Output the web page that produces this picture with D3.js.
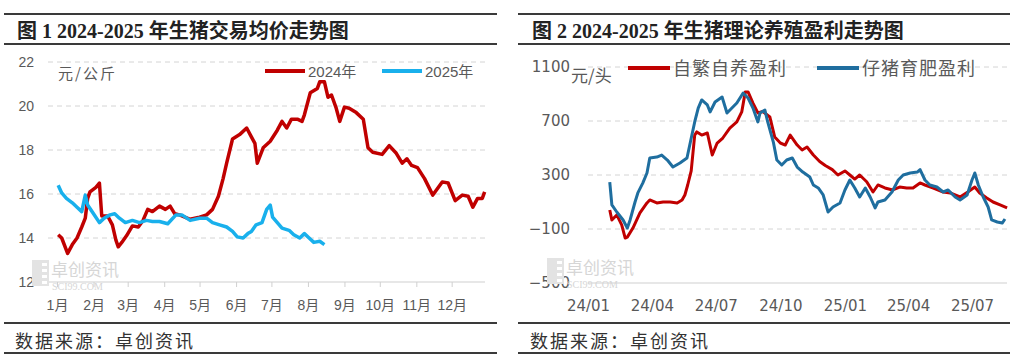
<!DOCTYPE html>
<html>
<head>
<meta charset="utf-8">
<script src="https://cdn.jsdelivr.net/npm/d3@7"></script>
<style>
  body { margin: 0; background: #fff; }
  svg { display: block; font-family: "Liberation Sans", "Noto Sans CJK SC", sans-serif; }
</style>
</head>
<body>
<svg id="canvas"></svg>
<script>
// two pig market charts side by side

let width = 1014
let height = 362

// ---- chart 1 : average pig price (yuan/kg), dates as month-day ----
let monthLabels = ['1月', '2月', '3月', '4月', '5月', '6月', '7月', '8月', '9月', '10月', '11月', '12月']
let priceTicks = [12, 14, 16, 18, 20, 22]

let priceDates2024 = ['01-02', '01-05', '01-10', '01-14', '01-18', '01-22', '01-25', '01-27', '01-29', '02-03',
  '02-06', '02-08', '02-13', '02-17', '02-20', '02-22', '02-25', '02-29', '03-05', '03-10',
  '03-14', '03-18', '03-22', '03-28', '04-02', '04-06', '04-10', '04-14', '04-23', '05-01',
  '05-07', '05-12', '05-17', '05-21', '05-24', '05-29', '06-04', '06-10', '06-14', '06-17',
  '06-19', '06-24', '06-30', '07-06', '07-10', '07-14', '07-18', '07-23', '07-27', '07-29',
  '08-03', '08-09', '08-11', '08-15', '08-18', '08-21', '08-25', '08-28', '09-01', '09-05',
  '09-11', '09-17', '09-21', '09-25', '10-03', '10-09', '10-15', '10-20', '10-24', '10-28',
  '11-02', '11-08', '11-15', '11-23', '11-28', '12-04', '12-10', '12-15', '12-19', '12-23',
  '12-27', '12-29']
let price2024 = [14.15, 14.0, 13.3, 13.7, 14.0, 14.5, 14.9, 15.8, 16.1, 16.3,
  16.5, 15.0, 15.0, 14.6, 13.9, 13.6, 13.8, 14.1, 14.55, 14.5,
  14.8, 15.3, 15.2, 15.45, 15.3, 15.45, 15.1, 15.05, 14.85, 14.95,
  15.05, 15.3, 15.9, 16.7, 17.4, 18.5, 18.7, 19.0, 18.6, 18.3,
  17.4, 18.1, 18.4, 18.9, 19.3, 19.0, 19.4, 19.4, 19.3, 19.6,
  20.6, 20.8, 21.1, 21.1, 20.4, 20.5, 19.9, 19.3, 19.95, 19.9,
  19.7, 19.4, 18.1, 17.9, 17.8, 18.2, 17.85, 17.4, 17.6, 17.3,
  17.2, 16.7, 15.95, 16.55, 16.5, 15.7, 15.95, 15.9, 15.4, 15.8,
  15.8, 16.1]

let priceDates2025 = ['01-02', '01-05', '01-09', '01-14', '01-18', '01-22', '01-25', '01-27', '02-01', '02-06',
  '02-10', '02-15', '02-19', '02-23', '02-28', '03-05', '03-11', '03-17', '03-22', '03-28',
  '04-04', '04-11', '04-16', '04-23', '05-01', '05-07', '05-12', '05-18', '05-24', '05-29',
  '06-02', '06-07', '06-11', '06-14', '06-18', '06-23', '06-27', '06-30', '07-02', '07-06',
  '07-10', '07-16', '07-20', '07-25', '07-29', '08-02', '08-06', '08-11', '08-15']
let price2025 = [16.4, 16.05, 15.8, 15.6, 15.4, 15.2, 15.95, 15.5, 15.1, 14.7,
  14.9, 15.05, 15.1, 14.9, 14.7, 14.8, 14.7, 14.8, 14.75, 14.75,
  14.65, 15.05, 15.05, 14.8, 14.9, 14.9, 14.7, 14.6, 14.5, 14.3,
  14.05, 14.0, 14.2, 14.3, 14.6, 14.7, 15.3, 15.5, 14.95, 14.7,
  14.45, 14.35, 14.15, 14.0, 14.2, 14.0, 13.8, 13.85, 13.7]

// ---- chart 2 : theoretical breeding profit (yuan/head) ----
let profitTicks = [-500, -100, 300, 700, 1100]
let quarterTicks = ['2024-01-01', '2024-04-01', '2024-07-01', '2024-10-01', '2025-01-01', '2025-04-01', '2025-07-01']

let selfDates = ['2024-02-01', '2024-02-04', '2024-02-11', '2024-02-18', '2024-02-23', '2024-02-26', '2024-03-05', '2024-03-15',
  '2024-03-25', '2024-03-29', '2024-04-08', '2024-04-17', '2024-04-27', '2024-05-07', '2024-05-14', '2024-05-18',
  '2024-05-22', '2024-05-27', '2024-06-01', '2024-06-04', '2024-06-11', '2024-06-19', '2024-06-26', '2024-07-03',
  '2024-07-11', '2024-07-21', '2024-07-31', '2024-08-07', '2024-08-12', '2024-08-16', '2024-08-23', '2024-08-30',
  '2024-09-06', '2024-09-16', '2024-09-23', '2024-10-01', '2024-10-08', '2024-10-15', '2024-10-25', '2024-11-01',
  '2024-11-08', '2024-11-17', '2024-11-26', '2024-12-04', '2024-12-14', '2024-12-22', '2025-01-01', '2025-01-08',
  '2025-01-15', '2025-01-22', '2025-02-01', '2025-02-10', '2025-02-17', '2025-02-27', '2025-03-10', '2025-03-20',
  '2025-03-30', '2025-04-08', '2025-04-18', '2025-04-25', '2025-05-06', '2025-05-21', '2025-05-31', '2025-06-14',
  '2025-06-25', '2025-07-05', '2025-07-12', '2025-07-22', '2025-07-31', '2025-08-10', '2025-08-20']
let selfProfit = [41, -33, 4, -70, -167, -160, -93, 19,
  93, 115, 93, 100, 100, 93, 115, 152,
  226, 330, 596, 619, 596, 611, 448, 537,
  574, 648, 693, 767, 915, 915, 833, 760,
  770, 730, 581, 537, 522, 596, 522, 485,
  507, 448, 400, 370, 340, 300, 330, 300,
  270, 300, 250, 174, 226, 204, 189, 211,
  204, 204, 241, 226, 204, 174, 167, 137,
  174, 211, 167, 130, 100, 78, 56]

let pigletDates = ['2024-02-01', '2024-02-04', '2024-02-11', '2024-02-20', '2024-02-26', '2024-03-01', '2024-03-08', '2024-03-12',
  '2024-03-19', '2024-03-25', '2024-03-29', '2024-04-08', '2024-04-15', '2024-04-23', '2024-05-01', '2024-05-11',
  '2024-05-21', '2024-05-28', '2024-06-01', '2024-06-06', '2024-06-11', '2024-06-19', '2024-06-23', '2024-06-30',
  '2024-07-10', '2024-07-17', '2024-07-24', '2024-07-31', '2024-08-09', '2024-08-16', '2024-08-23', '2024-08-30',
  '2024-09-02', '2024-09-09', '2024-09-13', '2024-09-21', '2024-09-26', '2024-10-03', '2024-10-10', '2024-10-18',
  '2024-10-25', '2024-11-02', '2024-11-12', '2024-11-17', '2024-11-24', '2024-12-01', '2024-12-08', '2024-12-15',
  '2024-12-25', '2025-01-01', '2025-01-08', '2025-01-15', '2025-01-22', '2025-01-30', '2025-02-06', '2025-02-13',
  '2025-02-17', '2025-02-27', '2025-03-09', '2025-03-18', '2025-03-25', '2025-04-04', '2025-04-14', '2025-04-18',
  '2025-04-25', '2025-05-02', '2025-05-12', '2025-05-21', '2025-05-28', '2025-06-07', '2025-06-14', '2025-06-24',
  '2025-07-01', '2025-07-05', '2025-07-10', '2025-07-17', '2025-07-24', '2025-07-29', '2025-08-06', '2025-08-13',
  '2025-08-17']
let pigletProfit = [248, 78, 26, -33, -93, -33, 100, 167,
  240, 315, 426, 433, 448, 411, 359, 389,
  426, 596, 693, 796, 856, 819, 767, 841,
  878, 759, 796, 833, 907, 870, 796, 693,
  759, 781, 693, 544, 411, 374, 411, 426,
  359, 322, 285, 226, 204, 152, 26, 63,
  93, 189, 263, 204, 137, 204, 137, 56,
  100, 115, 174, 263, 300, 315, 322, 340,
  263, 226, 211, 174, 189, 137, 115, 152,
  263, 315, 226, 137, 63, -33, -48, -56,
  -26]

let svg = d3.select('#canvas')
  .attr('width', width)
  .attr('height', height)

let parseDay = d3.timeParse('%Y-%m-%d')

// rules, title, source line for one panel
let drawFrame = (x0, x1, titleX, title) => {
  [14, 44, 323, 353].forEach(y => {
    svg.append('line')
      .attr('x1', x0).attr('x2', x1)
      .attr('y1', y).attr('y2', y)
      .attr('stroke', '#3a3a3a')
      .attr('stroke-width', 2)
  })
  svg.append('text')
    .attr('x', titleX)
    .attr('y', 38)
    .style('font-family', '"Liberation Serif", "Noto Sans CJK SC", serif')
    .style('font-weight', 'bold')
    .style('font-size', '20px')
    .attr('fill', '#222')
    .text(title)
  svg.append('text')
    .attr('x', titleX - 2)
    .attr('y', 348)
    .style('font-family', '"Noto Sans CJK SC", sans-serif')
    .style('font-size', '18px')
    .style('letter-spacing', '2px')
    .attr('fill', '#333')
    .text('数据来源：卓创资讯')
}

// faint company watermark
let drawMark = (x, y) => {
  let g = svg.append('g').attr('transform', `translate(${x},${y})`)
  g.append('rect').attr('x', 0).attr('y', 0).attr('width', 17).attr('height', 26).attr('fill', '#e3e3e3')
  for (let i = 0; i < 4; i++) {
    g.append('rect').attr('x', 10).attr('y', 3 + i * 6).attr('width', 5).attr('height', 3).attr('fill', '#fff')
  }
  g.append('text')
    .attr('x', 19).attr('y', 16)
    .style('font-family', '"Noto Sans CJK SC", sans-serif')
    .style('font-size', '17px')
    .attr('fill', '#d6d6d6')
    .text('卓创资讯')
  g.append('text')
    .attr('x', 20).attr('y', 30)
    .style('font-family', '"Liberation Serif", serif')
    .style('font-size', '10px')
    .attr('fill', '#d6d6d6')
    .text('SCI99.COM')
}

let drawPriceChart = () => {
  let xScale = d3.scaleTime()
    .domain([parseDay('2024-01-01'), parseDay('2024-12-31')])
    .range([57, 487])
  let yScale = d3.scaleLinear()
    .domain([12, 22])
    .range([282, 62])

  // dashed grid
  svg.append('g')
    .selectAll('line')
    .data(priceTicks.slice(1))
    .enter()
    .append('line')
    .attr('x1', 48).attr('x2', 485)
    .attr('y1', d => yScale(d)).attr('y2', d => yScale(d))
    .attr('stroke', '#d4d4d4')
    .attr('stroke-dasharray', '5,4')

  let yAxis = d3.axisLeft(yScale).tickValues(priceTicks).tickSize(0).tickPadding(0)
  svg.append('g')
    .attr('transform', 'translate(34,0)')
    .call(yAxis)
    .call(g => g.select('.domain').remove())
    .selectAll('text')
    .style('font-size', '14px')
    .style('font-family', '"Liberation Sans", sans-serif')
    .attr('fill', '#595959')

  svg.append('line')
    .attr('x1', 48).attr('x2', 485)
    .attr('y1', 282).attr('y2', 282)
    .attr('stroke', '#d0d0d0')
    .attr('stroke-width', 1.2)

  let monthStarts = d3.range(12).map(m => new Date(2024, m, 1))
  let xAxis = d3.axisBottom(xScale)
    .tickValues(monthStarts)
    .tickFormat((d, i) => monthLabels[i])
    .tickSize(5)
    .tickPadding(13)
  svg.append('g')
    .attr('transform', 'translate(0,282)')
    .call(xAxis)
    .call(g => g.select('.domain').remove())
    .call(g => g.selectAll('line').attr('stroke', '#d0d0d0'))
    .selectAll('text')
    .style('font-size', '14px')
    .style('font-family', '"Liberation Sans", "Noto Sans CJK SC", sans-serif')
    .attr('fill', '#595959')

  drawMark(32, 260)

  let line = d3.line()
    .x(d => xScale(d[0]))
    .y(d => yScale(d[1]))

  let pts2025 = priceDates2025.map((d, i) => [parseDay('2024-' + d), price2025[i]])
  let pts2024 = priceDates2024.map((d, i) => [parseDay('2024-' + d), price2024[i]])

  svg.append('path')
    .datum(pts2024)
    .attr('d', line)
    .attr('fill', 'none')
    .attr('stroke', '#C00000')
    .attr('stroke-width', 3.5)
    .attr('stroke-linejoin', 'round')
  svg.append('path')
    .datum(pts2025)
    .attr('d', line)
    .attr('fill', 'none')
    .attr('stroke', '#19B0EC')
    .attr('stroke-width', 3.5)
    .attr('stroke-linejoin', 'round')

  // unit + legend
  svg.append('text')
    .attr('x', 58).attr('y', 79)
    .style('font-family', '"Noto Sans CJK SC", sans-serif')
    .style('font-size', '15px')
    .style('letter-spacing', '2px')
    .attr('fill', '#595959')
    .text('元/公斤')

  let legend = [['2024年', '#C00000', 265], ['2025年', '#19B0EC', 382]]
  legend.forEach(item => {
    svg.append('line')
      .attr('x1', item[2]).attr('x2', item[2] + 40)
      .attr('y1', 71).attr('y2', 71)
      .attr('stroke', item[1])
      .attr('stroke-width', 4)
    svg.append('text')
      .attr('x', item[2] + 43).attr('y', 77)
      .style('font-size', '15px')
      .style('font-family', '"Liberation Sans", "Noto Sans CJK SC", sans-serif')
      .attr('fill', '#595959')
      .text(item[0])
  })
}

let drawProfitChart = () => {
  let xScale = d3.scaleTime()
    .domain([parseDay('2024-01-01'), parseDay('2025-07-01')])
    .range([588, 972])
  let yScale = d3.scaleLinear()
    .domain([-500, 1100])
    .range([283, 67])

  svg.append('g')
    .selectAll('line')
    .data(profitTicks.slice(1))
    .enter()
    .append('line')
    .attr('x1', 588).attr('x2', 1007)
    .attr('y1', d => yScale(d)).attr('y2', d => yScale(d))
    .attr('stroke', '#d4d4d4')
    .attr('stroke-dasharray', '5,4')

  let yAxis = d3.axisLeft(yScale).tickValues(profitTicks).tickSize(0).tickPadding(0)
  svg.append('g')
    .attr('transform', 'translate(570,0)')
    .call(yAxis)
    .call(g => g.select('.domain').remove())
    .selectAll('text')
    .text(d => d < 0 ? '\u2212' + Math.abs(d) : d)
    .style('font-size', '15px')
    .style('font-family', '"DejaVu Sans", sans-serif')
    .attr('fill', '#595959')

  svg.append('line')
    .attr('x1', 588).attr('x2', 1007)
    .attr('y1', 283).attr('y2', 283)
    .attr('stroke', '#d0d0d0')
    .attr('stroke-width', 1.2)

  let xAxis = d3.axisBottom(xScale)
    .tickValues(quarterTicks.map(parseDay))
    .tickFormat(d3.timeFormat('%y/%m'))
    .tickSize(0)
    .tickPadding(17)
  svg.append('g')
    .attr('transform', 'translate(0,283)')
    .call(xAxis)
    .call(g => g.select('.domain').remove())
    .selectAll('text')
    .style('font-size', '15px')
    .style('font-family', '"DejaVu Sans", sans-serif')
    .attr('fill', '#595959')

  drawMark(547, 258)

  let line = d3.line()
    .x(d => xScale(d[0]))
    .y(d => yScale(d[1]))

  let selfPts = selfDates.map((d, i) => [parseDay(d), selfProfit[i]])
  let pigletPts = pigletDates.map((d, i) => [parseDay(d), pigletProfit[i]])

  svg.append('path')
    .datum(selfPts)
    .attr('d', line)
    .attr('fill', 'none')
    .attr('stroke', '#C00000')
    .attr('stroke-width', 3)
    .attr('stroke-linejoin', 'round')
  svg.append('path')
    .datum(pigletPts)
    .attr('d', line)
    .attr('fill', 'none')
    .attr('stroke', '#1F6E9F')
    .attr('stroke-width', 3)
    .attr('stroke-linejoin', 'round')

  svg.append('text')
    .attr('x', 571).attr('y', 82)
    .style('font-family', '"Noto Sans CJK SC", sans-serif')
    .style('font-size', '17px')
    .attr('fill', '#595959')
    .text('元/头')

  let legend = [['自繁自养盈利', '#C00000', 628], ['仔猪育肥盈利', '#1F6E9F', 817]]
  legend.forEach(item => {
    svg.append('line')
      .attr('x1', item[2]).attr('x2', item[2] + 42)
      .attr('y1', 68).attr('y2', 68)
      .attr('stroke', item[1])
      .attr('stroke-width', 4)
    svg.append('text')
      .attr('x', item[2] + 45).attr('y', 75)
      .style('font-family', '"Noto Sans CJK SC", sans-serif')
      .style('font-size', '18px')
      .style('letter-spacing', '1px')
      .attr('fill', '#595959')
      .text(item[0])
  })
}

drawFrame(4, 497, 17, '图 1 2024-2025 年生猪交易均价走势图')
drawFrame(518, 1010, 532, '图 2 2024-2025 年生猪理论养殖盈利走势图')
drawPriceChart()
drawProfitChart()
</script>
</body>
</html>
